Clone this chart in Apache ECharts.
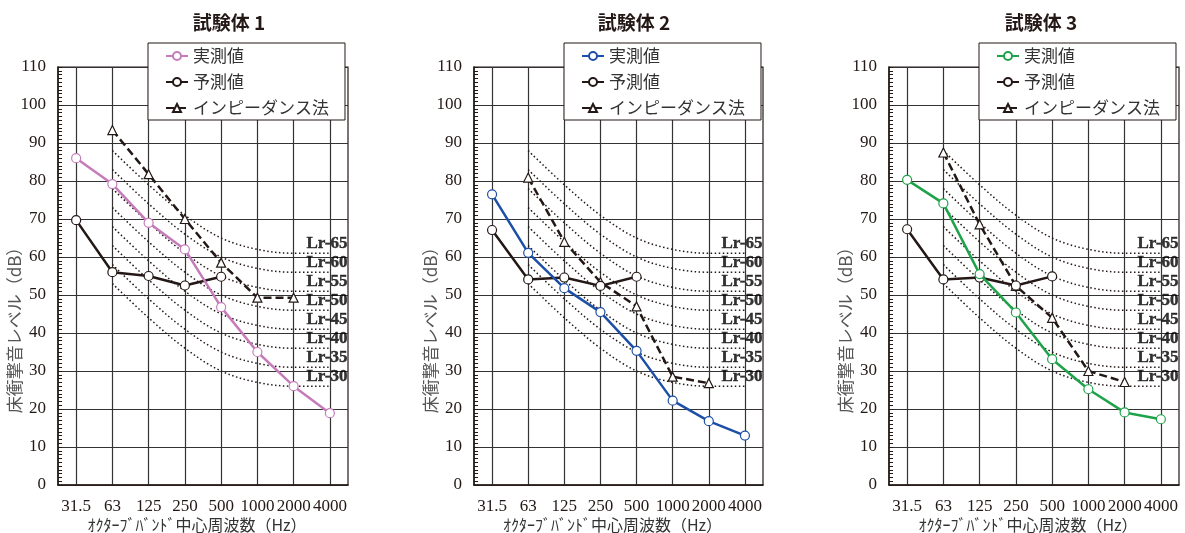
<!DOCTYPE html>
<html>
<head>
<meta charset="utf-8">
<script src="https://cdn.jsdelivr.net/npm/echarts@6/dist/echarts.min.js"></script>
<style>
  html, body { margin: 0; padding: 0; background: #fff; }
  #chart { width: 1185px; height: 533px; }
</style>
</head>
<body>
<div id="chart"></div>
<script>
// Octave band centre frequencies (Hz)
const bands = ['31.5', '63', '125', '250', '500', '1000', '2000', '4000'];
const panelTitles = ['試験体 1', '試験体 2', '試験体 3'];
const seriesNames = ['実測値', '予測値', 'インピーダンス法'];

// 試験体1
const measured1 = [86, 79.2, 69, 62, 46.8, 35, 26, 18.9];
const predicted1 = [69.7, 56, 55, 52.5, 54.8, null, null, null];
const impedance1 = [null, 93.4, 81.8, 70, 58.5, 49.3, 49.3, null];
// 試験体2
const measured2 = [76.5, 61.1, 51.8, 45.5, 35.3, 22.2, 16.8, 13];
const predicted2 = [67.1, 54.1, 54.6, 52.4, 54.8, null, null, null];
const impedance2 = [null, 80.9, 64, 53.4, 47, 28.5, 26.8, null];
// 試験体3
const measured3 = [80.3, 74.1, 55.5, 45.4, 33.1, 25.2, 19.1, 17.3];
const predicted3 = [67.3, 54.1, 54.6, 52.5, 54.9, null, null, null];
const impedance3 = [null, 87.5, 68.6, 52.4, 44, 30, 27.1, null];

// Lr reference curves (63 Hz - 4000 Hz)
const lrNames = ['Lr-65', 'Lr-60', 'Lr-55', 'Lr-50', 'Lr-45', 'Lr-40', 'Lr-35', 'Lr-30'];
const lr65 = [null, 88, 79, 71, 65, 62, 61, 61];
const lr60 = [null, 83, 74, 66, 60, 57, 56, 56];
const lr55 = [null, 78, 69, 61, 55, 52, 51, 51];
const lr50 = [null, 73, 64, 56, 50, 47, 46, 46];
const lr45 = [null, 68, 59, 51, 45, 42, 41, 41];
const lr40 = [null, 63, 54, 46, 40, 37, 36, 36];
const lr35 = [null, 58, 49, 41, 35, 32, 31, 31];
const lr30 = [null, 53, 44, 36, 30, 27, 26, 26];

const INK = '#231815';
const SERIF = '"Liberation Serif", "DejaVu Serif", serif';
const JP = '"Noto Sans CJK JP", "Noto Sans", sans-serif';

const panels = [
  { measured: measured1, predicted: predicted1, impedance: impedance1, color: '#c67cbb',
    grid: { left: 58, top: 67, width: 290, height: 418 }, legendLeft: 148, titleX: 224, yNameX: 15 },
  { measured: measured2, predicted: predicted2, impedance: impedance2, color: '#1d4fa6',
    grid: { left: 474, top: 67, width: 289, height: 418 }, legendLeft: 564, titleX: 629, yNameX: 431 },
  { measured: measured3, predicted: predicted3, impedance: impedance3, color: '#1ea34a',
    grid: { left: 889, top: 67, width: 290, height: 418 }, legendLeft: 979, titleX: 1036, yNameX: 846 }
];
const lrCurves = [lr65, lr60, lr55, lr50, lr45, lr40, lr35, lr30];

const option = {
  animation: false,
  backgroundColor: '#fff',
  title: [], grid: [], xAxis: [], yAxis: [], legend: [], series: [], graphic: []
};

panels.forEach((p, i) => {
  const key = '|' + (i + 1);
  option.title.push({
    text: panelTitles[i], left: p.titleX, top: 8, textAlign: 'center',
    textStyle: { fontFamily: JP, fontSize: 19, fontWeight: 'bold', color: INK }
  });
  option.grid.push(Object.assign({
    show: true, borderColor: INK, borderWidth: 1.2, backgroundColor: 'transparent',
    containLabel: false, outerBoundsMode: 'none'
  }, p.grid));
  option.xAxis.push({
    type: 'category', gridIndex: i, data: bands, boundaryGap: true,
    axisLine: { lineStyle: { color: INK, width: 1.5 } },
    axisTick: { inside: true, length: 5, lineStyle: { color: INK } },
    axisLabel: { interval: 0, margin: 13, fontFamily: SERIF, fontSize: 17, color: INK },
    splitLine: { show: true, alignWithLabel: true, interval: 0, lineStyle: { color: '#333', width: 1.2 } },
    name: 'ｵｸﾀｰﾌﾞﾊﾞﾝﾄﾞ中心周波数（Hz）', nameLocation: 'middle', nameGap: 40, nameMoveOverlap: false,
    nameTextStyle: { fontFamily: JP, fontSize: 16, lineHeight: 16, verticalAlign: 'middle', color: '#333', padding: [0, 12, 0, 0] }
  });
  option.yAxis.push({
    type: 'value', gridIndex: i, min: 0, max: 110, interval: 10,
    axisLine: { show: true, lineStyle: { color: INK, width: 1.5 } },
    axisTick: { show: true, inside: true, length: 4, lineStyle: { color: INK } },
    minorTick: { show: true, splitNumber: 10, length: 4, lineStyle: { color: INK } },
    axisLabel: { margin: 12, fontFamily: SERIF, fontSize: 17, color: INK },
    splitLine: { show: true, lineStyle: { color: '#333', width: 1.1 } }
  });
  option.graphic.push({
    type: 'text', x: p.yNameX, y: 326, rotation: Math.PI / 2,
    style: { text: '床衝撃音レベル（dB）', font: '17px ' + JP, fill: '#555', align: 'center', verticalAlign: 'middle' }
  });
  option.legend.push({
    left: p.legendLeft, top: 43, orient: 'vertical',
    data: seriesNames.map(n => n + key),
    formatter: name => name.split('|')[0],
    backgroundColor: '#fff', borderColor: INK, borderWidth: 1,
    padding: [4, 16, 3, 17], itemGap: 8, itemWidth: 22, itemHeight: 10,
    textStyle: { fontFamily: JP, fontSize: 17, lineHeight: 18, color: '#333' },
    selectedMode: false
  });

  // Lr reference curves
  lrCurves.forEach((curve, k) => {
    option.series.push({
      type: 'line', name: lrNames[k] + key, xAxisIndex: i, yAxisIndex: i,
      data: curve, symbol: 'none', smooth: 0.35, silent: true, z: 2,
      lineStyle: { color: INK, width: 1.5, type: [1.5, 2.5] }
    });
  });
  // Lr labels at the 4000 Hz end of each curve
  option.series.push({
    type: 'scatter', name: 'Lr' + key, xAxisIndex: i, yAxisIndex: i, silent: true, z: 6,
    symbolSize: 1, itemStyle: { color: 'transparent' },
    data: lrCurves.map((curve, k) => ({
      value: [bands.length - 1, curve[bands.length - 1]],
      label: { formatter: lrNames[k] }
    })),
    label: {
      show: true, position: [18, -9], align: 'right', verticalAlign: 'middle',
      fontFamily: SERIF, fontSize: 17, fontWeight: 'bold', color: '#000',
      textBorderColor: '#000', textBorderWidth: 0.4
    }
  });

  option.series.push({
    type: 'line', name: 'インピーダンス法' + key, xAxisIndex: i, yAxisIndex: i,
    data: p.impedance, symbol: 'triangle', symbolSize: 9, z: 3,
    lineStyle: { color: INK, width: 2.5, type: [8, 4] },
    itemStyle: { color: '#fff', borderColor: INK, borderWidth: 1.2 }
  });
  option.series.push({
    type: 'line', name: '予測値' + key, xAxisIndex: i, yAxisIndex: i,
    data: p.predicted, symbol: 'circle', symbolSize: 9, z: 4,
    lineStyle: { color: INK, width: 2.5 },
    itemStyle: { color: '#fff', borderColor: INK, borderWidth: 1.2 }
  });
  option.series.push({
    type: 'line', name: '実測値' + key, xAxisIndex: i, yAxisIndex: i,
    data: p.measured, symbol: 'circle', symbolSize: 9, z: 5,
    lineStyle: { color: p.color, width: 2.5 },
    itemStyle: { color: '#fff', borderColor: p.color, borderWidth: 1.2 }
  });
});

const chart = echarts.init(document.getElementById('chart'), null, { renderer: 'canvas' });
chart.setOption(option);
</script>
</body>
</html>
